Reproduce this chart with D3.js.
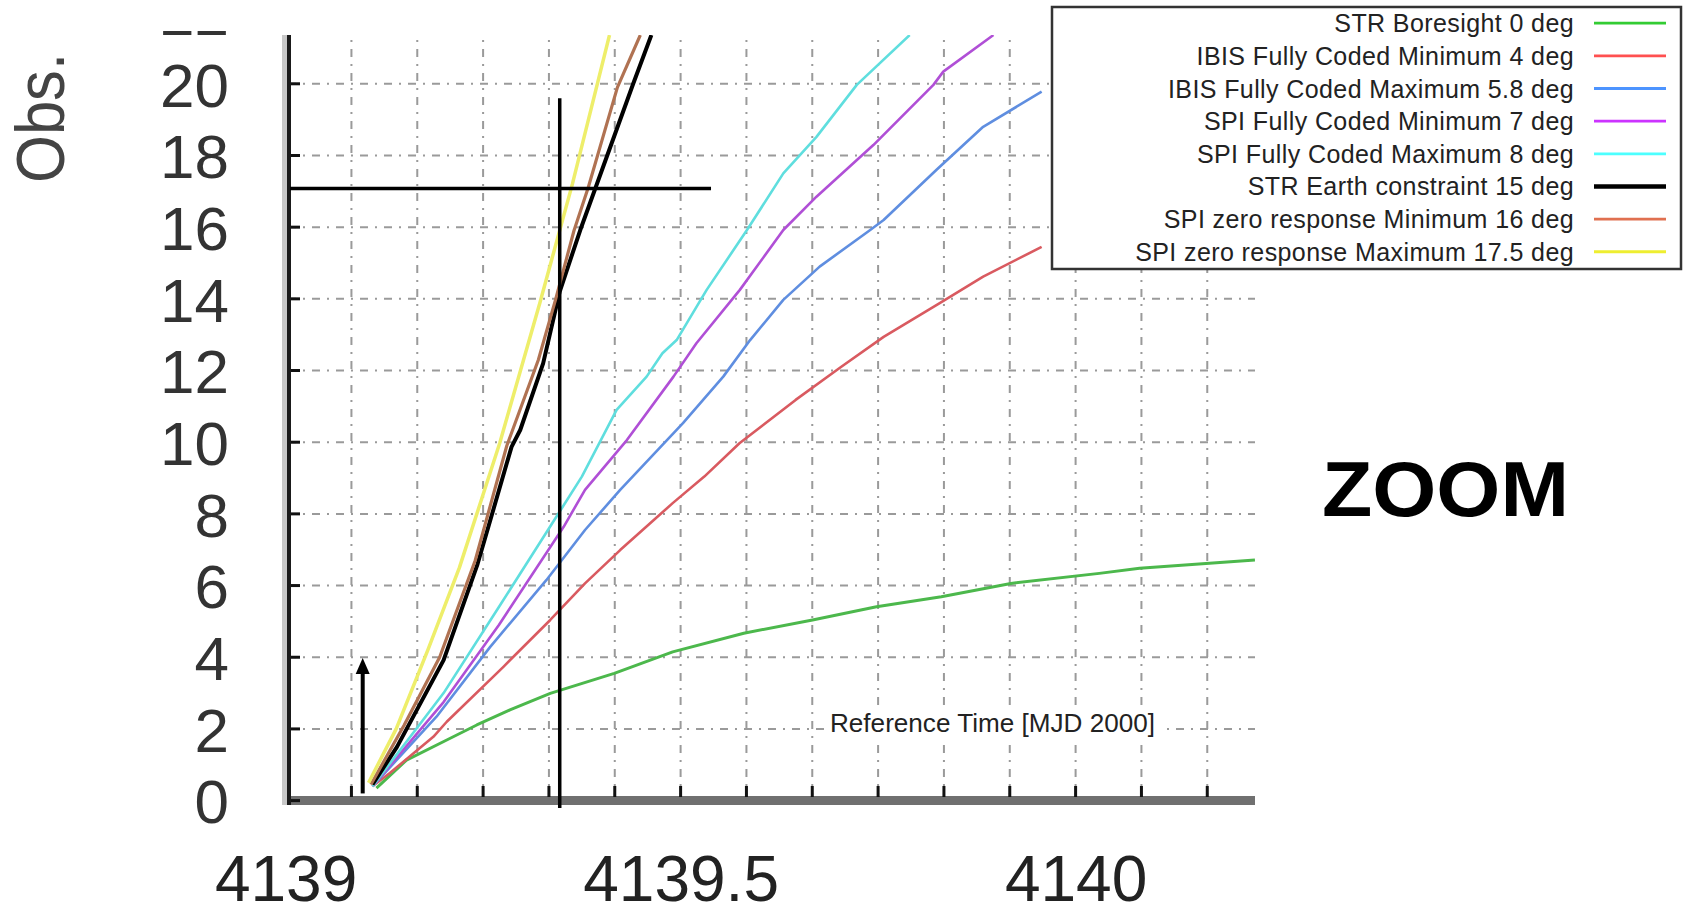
<!DOCTYPE html>
<html><head><meta charset="utf-8">
<script src="https://cdn.jsdelivr.net/npm/d3@7"></script>
<style>
html,body{margin:0;padding:0;background:#fff;}
svg{display:block;}
text{font-family:"Liberation Sans",Arial,Helvetica,sans-serif;}
</style></head><body>
<svg id="c" width="1685" height="906"></svg>
<script>
// ---- data (time in MJD 2000, value = Obs.) ----
const strBoresight = [[4139.115,0.35],[4139.153,1.13],[4139.204,1.69],[4139.242,2.11],[4139.284,2.53],[4139.335,2.99],[4139.416,3.55],[4139.49,4.15],[4139.58,4.67],[4139.667,5.04],[4139.748,5.41],[4139.83,5.69],[4139.918,6.06],[4140.03,6.34],[4140.081,6.48],[4140.227,6.71]];
const ibisMin = [[4139.11,0.4],[4139.132,0.77],[4139.187,1.78],[4139.204,2.2],[4139.276,3.74],[4139.335,5.04],[4139.379,6.06],[4139.4235,6.99],[4139.49,8.3],[4139.53,9.04],[4139.5745,9.97],[4139.6456,11.18],[4139.703,12.1],[4139.757,12.94],[4139.828,13.88],[4139.883,14.62],[4139.957,15.45]];
const ibisMax = [[4139.11,0.4],[4139.191,2.34],[4139.259,4.29],[4139.33,6.15],[4139.379,7.55],[4139.4235,8.67],[4139.503,10.53],[4139.554,11.83],[4139.588,12.85],[4139.63,13.97],[4139.676,14.9],[4139.74,15.92],[4139.757,16.2],[4139.824,17.6],[4139.883,18.8],[4139.957,19.78]];
const spiMin = [[4139.11,0.4],[4139.2,2.75],[4139.27,4.9],[4139.352,7.64],[4139.379,8.67],[4139.432,10.06],[4139.491,11.83],[4139.52,12.76],[4139.575,14.25],[4139.63,15.92],[4139.672,16.85],[4139.744,18.29],[4139.82,19.97],[4139.8325,20.34],[4139.896,21.36]];
const spiMax = [[4139.11,0.4],[4139.2,3.0],[4139.27,5.4],[4139.348,8.1],[4139.375,9.04],[4139.419,10.9],[4139.457,11.83],[4139.477,12.48],[4139.495,12.85],[4139.533,14.25],[4139.584,15.92],[4139.63,17.5],[4139.672,18.52],[4139.723,19.97],[4139.79,21.36]];
const strEarth = [[4139.11,0.45],[4139.141,1.5],[4139.2,3.92],[4139.243,6.6],[4139.286,9.87],[4139.297,10.34],[4139.326,12.2],[4139.347,14.2],[4139.373,15.92],[4139.392,17.08],[4139.44,20.0],[4139.463,21.36]];
const spiZeroMin = [[4139.108,0.45],[4139.15,2.1],[4139.195,4.0],[4139.24,6.7],[4139.28,9.9],[4139.32,12.3],[4139.342,14.0],[4139.365,15.9],[4139.383,17.1],[4139.42,19.9],[4139.449,21.36]];
const spiZeroMax = [[4139.105,0.5],[4139.14,2.0],[4139.18,4.2],[4139.22,6.5],[4139.271,9.97],[4139.322,13.9],[4139.363,17.2],[4139.41,21.36]];

const seriesNames = ["STR Boresight 0 deg","IBIS Fully Coded Minimum 4 deg","IBIS Fully Coded Maximum 5.8 deg","SPI Fully Coded Minimum 7 deg","SPI Fully Coded Maximum 8 deg","STR Earth constraint 15 deg","SPI zero response Minimum 16 deg","SPI zero response Maximum 17.5 deg"];
const seriesData = [strBoresight, ibisMin, ibisMax, spiMin, spiMax, strEarth, spiZeroMin, spiZeroMax];

const xTickLabels = [4139, 4139.5, 4140];
const yTickLabels = [0,2,4,6,8,10,12,14,16,18,20,22];
const xGridStep = 1/12;   // grid every 2 hours
const markerTime = 4139.347;   // vertical annotation
const markerLevel = 17.08;     // horizontal annotation
const arrowTime = 4139.0976;

// ---- styles ----
const plotColors = ["#4cb84c","#d95a60","#5f8ee0","#b04fd6","#5fdede","#000000","#b07252","#eeee6a"];
const legendColors = ["#33cc33","#ff5050","#4d94ff","#cc33ff","#4dffff","#000000","#e07050","#eeee30"];
const plotWidths = [3,2.6,2.6,2.6,2.6,4,3.2,3.5];

const svg = d3.select("#c");
const X0 = 288, X1 = 1255, YTOP = 35, YBOT = 801;
const x = d3.scaleLinear().domain([4139, 4140]).range([285.6, 1075.6]);
const y = d3.scaleLinear().domain([0, 20]).range([800.6, 83.8]);

const defs = svg.append("defs");
defs.append("clipPath").attr("id","plotclip").append("rect").attr("x",X0).attr("y",YTOP).attr("width",X1-X0).attr("height",YBOT-YTOP);
defs.append("clipPath").attr("id","labclip").append("rect").attr("x",0).attr("y",31).attr("width",1685).attr("height",900);

// grid
const gx = [];
for (let t = 4139 + xGridStep; x(t) < X1; t += xGridStep) gx.push(t);
const grid = svg.append("g").attr("stroke","#9a9a9a").attr("stroke-width",2).attr("stroke-dasharray","8,7,2,7");
grid.selectAll(".gv").data(gx).join("line").attr("x1",d=>x(d)).attr("x2",d=>x(d)).attr("y1",YBOT).attr("y2",YTOP);
grid.selectAll(".gh").data(yTickLabels.filter(v=>v>0 && y(v)>YTOP)).join("line")
  .attr("x1",X0).attr("x2",X1).attr("y1",d=>y(d)).attr("y2",d=>y(d));

// x-axis title with white background
const refG = svg.append("g");
refG.append("rect").attr("x",826).attr("y",708).attr("width",334).attr("height",30).attr("fill","#fff");
refG.append("text").attr("x",830).attr("y",723).attr("dy","0.35em").attr("font-size",25)
  .attr("textLength",325).attr("lengthAdjust","spacingAndGlyphs").attr("fill","#222").text("Reference Time [MJD 2000]");

// axes frame
svg.append("rect").attr("x",X0).attr("y",796).attr("width",X1-X0).attr("height",9).attr("fill","#707070");
svg.append("rect").attr("x",282).attr("y",YTOP).attr("width",5).attr("height",805-YTOP).attr("fill","#c8c8c8");
svg.append("rect").attr("x",287).attr("y",YTOP).attr("width",4).attr("height",805-YTOP).attr("fill","#1a1a1a");

// ticks
svg.append("g").selectAll("line").data(yTickLabels.filter(v=>y(v)>YTOP)).join("line")
  .attr("x1",291).attr("x2",300).attr("y1",d=>y(d)).attr("y2",d=>y(d)).attr("stroke","#111").attr("stroke-width",3);
svg.append("g").selectAll("line").data(gx).join("line")
  .attr("x1",d=>x(d)).attr("x2",d=>x(d)).attr("y1",797).attr("y2",786).attr("stroke","#111").attr("stroke-width",3);

// data lines
const line = d3.line().x(d=>x(d[0])).y(d=>y(d[1]));
const lg = svg.append("g").attr("clip-path","url(#plotclip)");
seriesData.forEach((s,i)=>{
  lg.append("path").datum(s).attr("d",line).attr("fill","none")
    .attr("stroke",plotColors[i]).attr("stroke-width",plotWidths[i]).attr("stroke-linejoin","round");
});

// annotations
svg.append("line").attr("x1",x(markerTime)).attr("x2",x(markerTime)).attr("y1",y(19.6)).attr("y2",808)
  .attr("stroke","#000").attr("stroke-width",3.5);
svg.append("line").attr("x1",290).attr("x2",x(4139.5385)).attr("y1",y(markerLevel)).attr("y2",y(markerLevel))
  .attr("stroke","#000").attr("stroke-width",3.5);
const ax = x(arrowTime), ayB = y(0.2), ayT = y(3.98);
svg.append("line").attr("x1",ax).attr("x2",ax).attr("y1",ayB).attr("y2",ayT+12).attr("stroke","#000").attr("stroke-width",4);
svg.append("path").attr("d",`M${ax},${ayT} L${ax-7},${ayT+16} L${ax+7},${ayT+16} Z`).attr("fill","#000");

// axis labels via d3 axes
const yAxis = d3.axisLeft(y).tickValues(yTickLabels).tickSize(0).tickPadding(59).tickFormat(d3.format("d"));
const ywrap = svg.append("g").attr("clip-path","url(#labclip)");
const yg = ywrap.append("g").attr("transform",`translate(${X0},0)`).call(yAxis);
yg.select(".domain").remove();
yg.selectAll("text").attr("font-size",62).attr("fill","#333").attr("font-family","Liberation Sans, Arial, sans-serif").attr("dy","0.36em");

const xAxis = d3.axisBottom(x).tickValues(xTickLabels).tickSize(0).tickPadding(55).tickFormat(d=>String(d));
const xg = svg.append("g").attr("transform",`translate(0,${YBOT})`).call(xAxis);
xg.select(".domain").remove();
xg.selectAll("text").attr("font-size",64).attr("fill","#222").attr("font-family","Liberation Sans, Arial, sans-serif");

// Obs. label
svg.append("text").attr("transform","translate(64,118) rotate(-90)").attr("text-anchor","middle")
  .attr("font-size",68).attr("fill","#444").attr("textLength",130).attr("lengthAdjust","spacingAndGlyphs").text("Obs.");

// ZOOM
svg.append("text").attr("x",1322).attr("y",516).attr("font-size",78).attr("font-weight","bold")
  .attr("textLength",247).attr("lengthAdjust","spacingAndGlyphs").attr("fill","#000").text("ZOOM");

// legend
const leg = svg.append("g");
leg.append("rect").attr("x",1052).attr("y",7).attr("width",629).attr("height",262)
  .attr("fill","#fff").attr("stroke","#333").attr("stroke-width",2.5);
seriesNames.forEach((n,i)=>{
  const yy = 23.2 + i*32.65;
  leg.append("text").attr("x",1574).attr("y",yy).attr("dy","0.36em").attr("text-anchor","end")
    .attr("font-size",25).attr("letter-spacing","0.4px").attr("fill","#222").text(n);
  leg.append("line").attr("x1",1594).attr("x2",1666).attr("y1",yy).attr("y2",yy)
    .attr("stroke",legendColors[i]).attr("stroke-width",i===5?4.5:2.8);
});
</script>
</body></html>
